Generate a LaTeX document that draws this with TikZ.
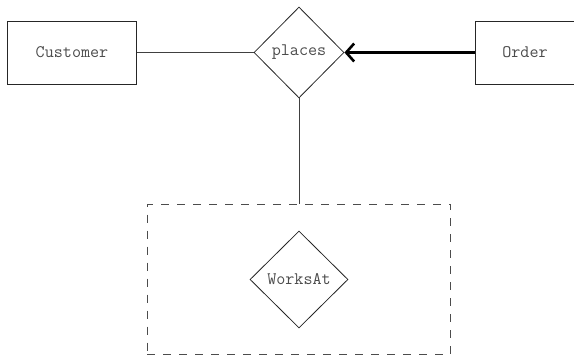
\documentclass[tikz,border=0pt]{standalone}
\usetikzlibrary{shapes.geometric,arrows.meta}
\begin{document}
\begin{tikzpicture}[x=1pt,y=-1pt,
  lbl/.style={font=\ttfamily\fontsize{17.6}{20}\selectfont, text=black!70},
  entity/.style={lbl, draw=black!85, line width=0.9pt, rectangle, minimum height=63pt, inner sep=0pt},
  rel/.style={lbl, draw=black!85, line width=0.8pt, diamond, inner sep=0pt},
  link/.style={draw=black!75, line width=0.9pt},
  grp/.style={draw=black!70, line width=0.9pt, dash pattern=on 8pt off 8pt, rectangle, inner sep=0pt}]
\useasboundingbox (0,0) rectangle (574,355);
\clip (0,0) rectangle (574,355);
\node[entity, minimum width=129.4pt] (customer) at (72,52.5) {Customer};
\node[entity, minimum width=100pt] (order) at (525,52.5) {Order};
\node[rel, minimum width=90pt, minimum height=91pt] (places) at (299,52.5) {places};
\node[grp, minimum width=303.4pt, minimum height=150.5pt] (group) at (299,279.3) {};
\node[rel, minimum width=98pt, minimum height=97pt] (worksat) at (299,279.5) {WorksAt};
\draw[link] (customer.east) -- (places.west);
\draw[link] (places.south) -- (group.north);
\draw[line width=3.8pt, -{Straight Barb[length=8pt,width=18pt,line width=2.6pt]}] (order.west) -- (places.east);
\end{tikzpicture}
\end{document}
